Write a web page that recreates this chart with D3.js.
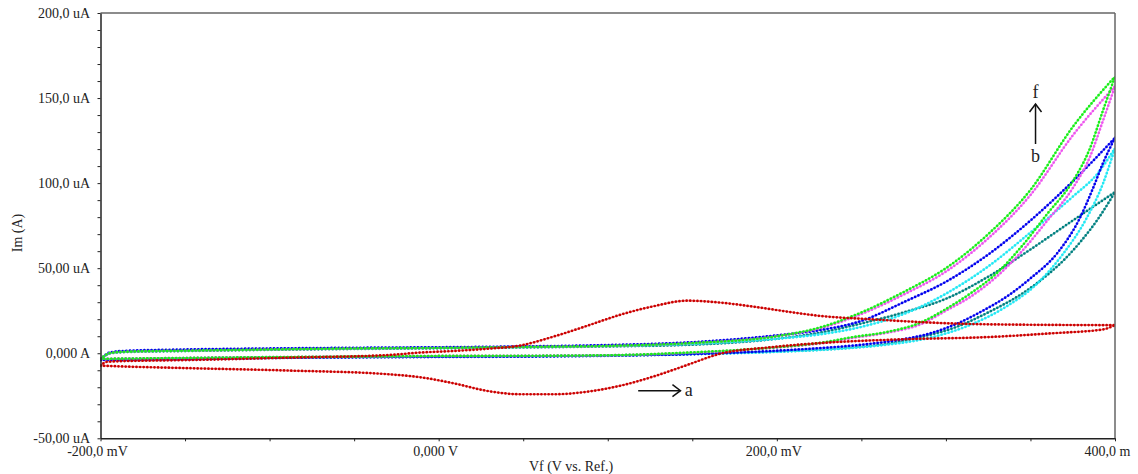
<!DOCTYPE html>
<html>
<head>
<meta charset="utf-8">
<script src="https://cdn.jsdelivr.net/npm/d3@7"></script>
<style>
  body { margin: 0; background: #fff; }
  svg { display: block; }
  text { font-family: "Liberation Serif", "Times New Roman", serif; fill: #222; }
</style>
</head>
<body>
<svg id="chart" width="1138" height="474"></svg>
<script>
// Cyclic voltammograms: potential Vf (mV) vs current Im (uA)
// Each scan: forward sweep (-200 -> 400 mV) and reverse sweep (400 -> -200 mV)

// a: red trace with redox peaks
const scanAForward = [[-200,-7.3],[-196,-5.0],[-185,-4.6],[-147,-4.0],[-88,-2.6],[-29,-1.0],[-11,0.4],[8.5,1.3],[28.6,2.6],[48,4.5],[68,9.8],[88,16.2],[107,22.5],[127,27.6],[147,30.9],[166,29.8],[186,27.4],[206,24.5],[226,21.9],[255,20.0],[285,18.3],[314,17.2],[356,16.7],[400,16.5]];
const scanAReverse = [[400,16.5],[393,14.0],[364,11.8],[325,9.5],[275,8.2],[226,6.0],[196,3.5],[166,-0.4],[147,-6.9],[127,-13.7],[107,-19.2],[88,-22.6],[68,-24.1],[48,-24.1],[29,-22.2],[8.5,-17.6],[-11,-14.1],[-29,-12.4],[-88,-10.2],[-147,-8.8],[-195,-7.5],[-200,-7.3]];

// b
const scanBForward = [[-200,-3.5],[-194,0.0],[-185,0.7],[-150,1.3],[-100,2.0],[-50,2.5],[0,2.9],[50,3.4],[100,4.0],[150,5.0],[200,8.5],[225,12],[250,17.5],[275,24],[300,32],[325,45],[350,61],[375,78],[400,94.7]];
const scanBReverse = [[400,94.7],[390,79],[380,66],[370,55],[360,46],[345,35],[325,24],[305,15],[285,9.5],[265,5.5],[240,3.0],[200,1.0],[150,-0.5],[100,-1.3],[0,-2.0],[-100,-2.5],[-150,-2.9],[-200,-3.5]];

// c
const scanCForward = [[-200,-3.5],[-194,0.2],[-185,0.9],[-150,1.6],[-100,2.3],[-50,2.8],[0,3.1],[50,3.6],[100,4.3],[150,5.5],[200,8.5],[225,11],[250,15.5],[275,23],[300,35],[325,51],[350,71],[375,92],[390,106],[400,120.6]];
const scanCReverse = [[400,120.6],[393,100],[383,79],[369,58],[353,40],[335,27],[314,16.5],[290,9],[265,5],[240,2.8],[200,0.8],[150,-0.5],[100,-1.3],[0,-2.0],[-100,-2.5],[-150,-3.0],[-200,-3.5]];

// d
const scanDForward = [[-200,-4.0],[-194,0.6],[-185,1.4],[-150,2.2],[-100,2.8],[-50,3.2],[0,3.5],[50,4.0],[100,4.8],[150,6.5],[200,10.5],[225,13.5],[250,19],[275,30],[300,42],[325,58],[350,78],[375,101],[400,126.6]];
const scanDReverse = [[400,126.6],[393,112],[387,97],[379,79],[366,59],[350,44],[337,34],[320,24],[308,18],[290,11.5],[270,7.5],[250,5],[225,3],[200,1.5],[150,-0.5],[100,-1.5],[50,-2.0],[0,-2.2],[-100,-2.8],[-150,-3.5],[-200,-4.0]];

// e
const scanEForward = [[-200,-3.3],[-194,0.2],[-185,0.9],[-150,1.5],[-100,2.2],[-50,2.8],[0,3.1],[50,3.7],[100,4.3],[150,6.0],[200,10.0],[225,14.5],[250,23],[275,34.5],[300,48],[325,67.5],[350,93],[375,128],[400,157]];
const scanEReverse = [[400,157],[393,137],[385,115],[375,97],[360,78],[345,60],[330,45],[315,33.5],[300,25],[285,17],[265,12],[245,9],[225,5.7],[200,3.3],[150,0.3],[100,-1.2],[50,-1.5],[0,-1.6],[-50,-2.0],[-100,-2.3],[-150,-2.8],[-200,-3.3]];

// f
const scanFForward = [[-200,-3.3],[-194,0.2],[-185,0.9],[-150,1.5],[-100,2.2],[-50,2.8],[0,3.1],[50,3.7],[100,4.3],[150,6.0],[200,10.0],[225,15],[250,24],[275,36],[300,50],[325,70],[350,96],[375,133],[400,162.6]];
const scanFReverse = [[400,162.6],[393,143],[385,120],[375,101],[360,82],[345,63],[330,47],[315,35.5],[300,26],[285,18],[265,12.5],[245,9.5],[225,6],[200,3.5],[150,0.5],[100,-1.2],[50,-1.5],[0,-1.6],[-50,-2.0],[-100,-2.3],[-150,-2.8],[-200,-3.3]];

// Axis ticks and labels
const xLabelValues = [-200, 0, 200, 400];
const xLabelTexts = ["-200,0 mV", "0,000 V", "200,0 mV", "400,0 m"];
const yLabelValues = [-50, 0, 50, 100, 150, 200];
const yLabelTexts = ["-50,00 uA", "0,000 A", "50,00 uA", "100,0 uA", "150,0 uA", "200,0 uA"];
const xTickStep = 50;
const yTickStep = 10;

// Draw order (last on top) and colours
const scans = [
  { key: "b", forward: scanBForward, reverse: scanBReverse },
  { key: "c", forward: scanCForward, reverse: scanCReverse },
  { key: "d", forward: scanDForward, reverse: scanDReverse },
  { key: "e", forward: scanEForward, reverse: scanEReverse },
  { key: "f", forward: scanFForward, reverse: scanFReverse },
  { key: "a", forward: scanAForward, reverse: scanAReverse }
];
const scanColor = { a: "#cc0000", b: "#008080", c: "#22e8f4", d: "#0000ee", e: "#ee55ee", f: "#18ee18" };

const plot = { left: 100.5, right: 1115, top: 13, bottom: 438.3 };

const svg = d3.select("#chart");
const x = d3.scaleLinear().domain([-200, 400]).range([plot.left, plot.right]);
const y = d3.scaleLinear().domain([-50, 200]).range([plot.bottom, plot.top]);

svg.append("defs").append("clipPath").attr("id", "plotClip")
  .append("rect")
  .attr("x", plot.left).attr("y", plot.top)
  .attr("width", plot.right - plot.left).attr("height", plot.bottom - plot.top);

// Curves: each sweep drawn as a smooth line with dot markers along it
const line = d3.line().x(d => x(d[0])).y(d => y(d[1])).curve(d3.curveMonotoneX);
const curveLayer = svg.append("g").attr("clip-path", "url(#plotClip)");

scans.forEach(s => {
  [s.forward, s.reverse].forEach(branch => {
    const pts = branch.slice().sort((p, q) => p[0] - q[0]);
    const g = curveLayer.append("g");
    g.append("path")
      .attr("d", line(pts))
      .attr("fill", "none")
      .attr("stroke", scanColor[s.key])
      .attr("stroke-opacity", 0.45)
      .attr("stroke-width", 1.6);
    g.append("path")
      .attr("d", line(pts))
      .attr("fill", "none")
      .attr("stroke", scanColor[s.key])
      .attr("stroke-width", 2.7)
      .attr("stroke-linecap", "round")
      .attr("stroke-dasharray", "0 3.6");
  });
});

// Frame: top and right borders
svg.append("line")
  .attr("x1", plot.left).attr("x2", plot.right)
  .attr("y1", plot.top).attr("y2", plot.top)
  .attr("stroke", "#666").attr("stroke-width", 1.5);
svg.append("line")
  .attr("x1", plot.right).attr("x2", plot.right)
  .attr("y1", plot.top).attr("y2", plot.bottom)
  .attr("stroke", "#666").attr("stroke-width", 1.5);

// Bottom axis with minor ticks
const xAxis = d3.axisBottom(x)
  .tickValues(d3.range(-200, 400 + 1, xTickStep))
  .tickSize(3).tickSizeOuter(0).tickFormat("");
const gx = svg.append("g").attr("transform", `translate(0,${plot.bottom})`).call(xAxis);
gx.select(".domain").attr("stroke", "#222").attr("stroke-width", 1.5);
gx.selectAll(".tick line").attr("stroke", "#222");

// Left axis with minor ticks
const yAxis = d3.axisLeft(y)
  .tickValues(d3.range(-50, 200 + 1, yTickStep))
  .tickSize(3).tickSizeOuter(0).tickFormat("");
const gy = svg.append("g").attr("transform", `translate(${plot.left},0)`).call(yAxis);
gy.select(".domain").attr("stroke", "#222").attr("stroke-width", 1.5);
gy.selectAll(".tick line").attr("stroke", "#222");

// Tick labels
svg.append("g").selectAll("text")
  .data(xLabelValues)
  .join("text")
  .attr("x", (d, i) => x(d) - (i === xLabelValues.length - 1 ? 7.5 : 3))
  .attr("y", 456)
  .attr("text-anchor", "middle")
  .attr("font-size", 14)
  .text((d, i) => xLabelTexts[i]);

svg.append("g").selectAll("text")
  .data(yLabelValues)
  .join("text")
  .attr("x", 90)
  .attr("y", d => y(d))
  .attr("dy", "0.35em")
  .attr("text-anchor", "end")
  .attr("font-size", 14)
  .text((d, i) => yLabelTexts[i]);

// Axis titles
svg.append("text")
  .attr("x", 571).attr("y", 471)
  .attr("text-anchor", "middle")
  .attr("font-size", 14)
  .text("Vf (V vs. Ref.)");
svg.append("text")
  .attr("transform", "translate(22,233) rotate(-90)")
  .attr("text-anchor", "middle")
  .attr("font-size", 14)
  .text("Im (A)");

// Annotations: trend arrow b -> f and pointer to a
const ann = svg.append("g").attr("stroke", "#111").attr("stroke-width", 1.5).attr("fill", "none");
const ax = x(353);
ann.append("line").attr("x1", ax).attr("x2", ax).attr("y1", y(123)).attr("y2", y(146.5));
ann.append("polyline").attr("points", `${ax - 6},${y(146.5) + 8} ${ax},${y(146.5)} ${ax + 6},${y(146.5) + 8}`);
svg.append("text").attr("x", ax).attr("y", y(146.5) - 6).attr("text-anchor", "middle").attr("font-size", 18).text("f");
svg.append("text").attr("x", ax).attr("y", y(112.5)).attr("text-anchor", "middle").attr("font-size", 18).text("b");

const ay = y(-22);
ann.append("line").attr("x1", x(118)).attr("x2", x(143)).attr("y1", ay).attr("y2", ay);
ann.append("polyline").attr("points", `${x(143) - 8},${ay - 6} ${x(143)},${ay} ${x(143) - 8},${ay + 6}`);
svg.append("text").attr("x", x(145.5)).attr("y", ay + 5).attr("font-size", 18).text("a");
</script>
</body>
</html>
